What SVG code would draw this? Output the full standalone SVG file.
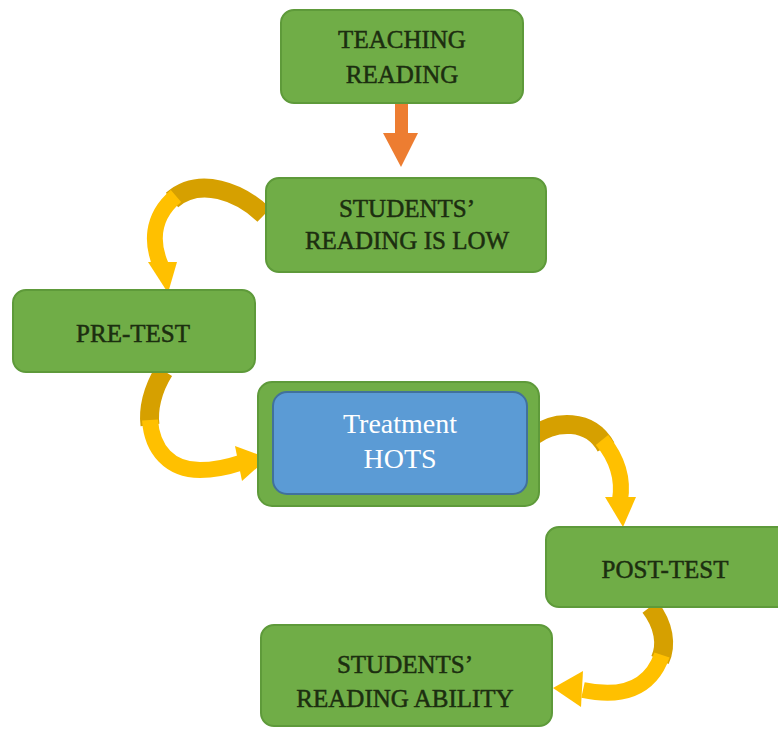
<svg xmlns="http://www.w3.org/2000/svg" width="778" height="731" viewBox="0 0 778 731">
<style>
.box{fill:#70AD47;stroke:#5E9A3A;stroke-width:2}
.lbl{font-family:"Liberation Serif","Times New Roman",serif;font-size:25px;fill:#1C2E10;stroke:#1C2E10;stroke-width:0.5;text-anchor:middle}
.wlbl{font-family:"Liberation Serif","Times New Roman",serif;font-size:28px;fill:#FFFFFF;text-anchor:middle}
.dark{fill:none;stroke:#D6A000;stroke-width:19}
.bright{fill:none;stroke:#FFC000;stroke-width:16}
.head{fill:#FFC000}
</style>
<rect width="778" height="731" fill="#FFFFFF"/>
<g id="connectors">
  <!-- teaching -> students low -->
  <polygon points="395,103 408,103 408,133 418,133 401,167 383,133 395,133" fill="#ED7D31"/>
  <!-- students low -> pre-test -->
  <path class="dark" d="M264,215 C240,192 200,176 172,200"/>
  <path class="bright" d="M176,196 C150,218 152,245 161,266"/>
  <polygon class="head" points="148,262 177,262 168,293"/>
  <!-- pre-test -> treatment -->
  <path class="dark" d="M164,371 C152,390 148,410 150,425"/>
  <path class="bright" d="M150,420 C152,450 170,470 200,470 C215,470 228,467 240,463"/>
  <polygon class="head" points="235,446 242,481 268,458"/>
  <!-- treatment -> post-test -->
  <path class="dark" d="M533,436 C555,420 590,418 606,447"/>
  <path class="bright" d="M602,440 C620,462 623,482 620,500"/>
  <polygon class="head" points="605,497 636,497 623,527"/>
  <!-- post-test -> ability -->
  <path class="dark" d="M650,607 C664,625 667,645 660,660"/>
  <path class="bright" d="M662,655 C650,690 620,698 583,690"/>
  <polygon class="head" points="583,671 581,707 553,688"/>
</g>
<g id="teaching-reading">
  <rect class="box" x="281" y="10" width="242" height="93" rx="13"/>
  <text class="lbl" x="402" y="48">TEACHING</text>
  <text class="lbl" x="402" y="83">READING</text>
</g>
<g id="students-reading-low">
  <rect class="box" x="266" y="178" width="280" height="94" rx="13"/>
  <text class="lbl" x="407" y="217">STUDENTS’</text>
  <text class="lbl" x="407" y="249">READING IS LOW</text>
</g>
<g id="pre-test">
  <rect class="box" x="13" y="290" width="242" height="82" rx="13"/>
  <text class="lbl" x="133" y="342">PRE-TEST</text>
</g>
<g id="treatment-hots">
  <rect x="258" y="382" width="281" height="124" rx="14" fill="#70AD47" stroke="#5E9A3A" stroke-width="2"/>
  <rect x="273" y="392" width="254" height="102" rx="14" fill="#5B9BD5" stroke="#41719C" stroke-width="2"/>
  <text class="wlbl" x="400" y="433">Treatment</text>
  <text class="wlbl" x="400" y="468">HOTS</text>
</g>
<g id="post-test">
  <rect class="box" x="546" y="527" width="245" height="80" rx="13"/>
  <text class="lbl" x="665" y="578">POST-TEST</text>
</g>
<g id="students-reading-ability">
  <rect class="box" x="261" y="625" width="291" height="101" rx="13"/>
  <text class="lbl" x="405" y="673">STUDENTS’</text>
  <text class="lbl" x="405" y="707">READING ABILITY</text>
</g>
</svg>
